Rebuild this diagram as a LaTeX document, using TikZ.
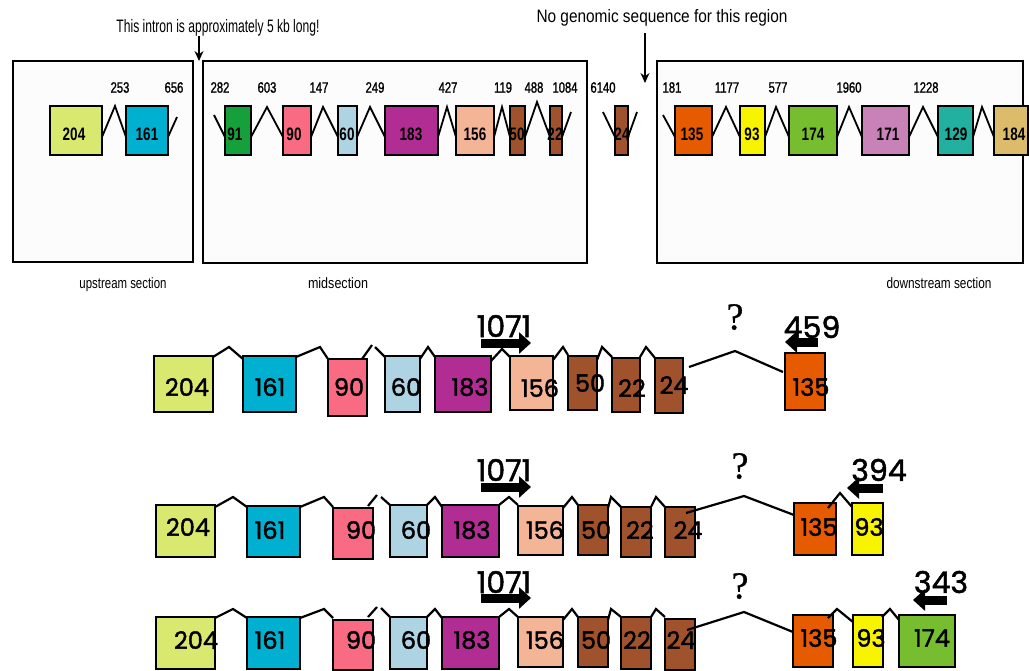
\documentclass[tikz,border=0pt]{standalone}
\usepackage{fontspec}
\usepackage{graphicx}
\setmainfont{Liberation Sans}
\newfontfamily\condfont[FakeStretch=0.75]{Liberation Sans}
\newfontfamily\condmed[FakeStretch=0.75,FakeBold=1.2]{Liberation Sans}
\newfontfamily\geofont[FakeBold=1.6]{Poppins}
\newfontfamily\qfont[FakeBold=0.8]{Liberation Serif}
\usetikzlibrary{arrows.meta}
\definecolor{c204}{HTML}{D9E86E}
\definecolor{c161}{HTML}{00B0D0}
\definecolor{c91}{HTML}{16A03C}
\definecolor{c90}{HTML}{F86B82}
\definecolor{c60}{HTML}{AED4E3}
\definecolor{c183}{HTML}{B22D93}
\definecolor{c156}{HTML}{F4B496}
\definecolor{cbrown}{HTML}{A0522D}
\definecolor{c135}{HTML}{E65A00}
\definecolor{c93}{HTML}{F8F400}
\definecolor{c174}{HTML}{76BE30}
\definecolor{c171}{HTML}{C882B8}
\definecolor{c129}{HTML}{22B0A0}
\definecolor{c184}{HTML}{DCBC6A}
\definecolor{panelfill}{HTML}{FCFCFC}
\newcommand\exon[9]{%
  \node[exon, fill=#6, minimum width={#4-#2}, minimum height={#5-#3}] (#1) at ({(#2+#4)/2},{(#3+#5)/2}) {};
  \node[lbl] (#1t) at (#8,#9) {#7};}
\newcommand\intron[6]{\draw[intron] (#1.east |- 0,#3) -- (#4,#5) -- (#2.west |- 0,#6);}
\begin{document}
\begin{tikzpicture}[x=1pt,y=-1pt,
  exon/.style={draw=black, line width=1.6pt, inner sep=0pt, outer sep=0pt},
  intron/.style={draw=black, line width=1.8pt},
  panel/.style={draw=black, line width=1.5pt, fill=panelfill},
  ilbl/.style={font=\condmed\fontsize{15}{15}\selectfont, inner sep=0pt},
  caption/.style={font=\condfont\fontsize{18}{18}\selectfont, inner sep=0pt, anchor=base},
  seclbl/.style={font=\condfont\fontsize{15}{15}\selectfont, inner sep=0pt, anchor=base},
  pointer/.style={draw=black, line width=1.2pt, -{Stealth[length=10pt,width=9pt]}},
  blockarrow/.style={draw=black, line width=9pt, -{Triangle[length=12pt,width=21pt]}},
  qmark/.style={font=\qfont\fontsize{38}{38}\selectfont, inner sep=0pt},
  big/.style={font=\geofont\fontsize{30}{30}\selectfont, inner sep=0pt}]
\useasboundingbox (0,0) rectangle (1029,670);

% ---------- top: panels ----------
\node[panel, minimum width=180, minimum height=201] (up) at (103,161.5) {};
\node[panel, minimum width=384, minimum height=202] (mid) at (395,162) {};
\node[panel, minimum width=366, minimum height=202] (down) at (840,162) {};
\node[seclbl] (uplbl) at (123,288) {\resizebox{87pt}{\height}{upstream section}};
\node[seclbl] (midlbl) at (338,288) {\resizebox{60pt}{\height}{midsection}};
\node[seclbl] (downlbl) at (939,288) {\resizebox{105pt}{\height}{downstream section}};

\node[caption] (cap1) at (218,32) {\resizebox{203pt}{\height}{This intron is approximately 5 kb long!}};
\node[caption] (cap2) at (662,22) {\resizebox{251pt}{\height}{No genomic sequence for this region}};
\coordinate (p1s) at (199,36); \coordinate (p1e) at (199,61);
\coordinate (p2s) at (645,33); \coordinate (p2e) at (645,83);
\draw[pointer] (p1s) -- (p1e);
\draw[pointer] (p2s) -- (p2e);

% ---------- top: exons ----------
\begin{scope}[lbl/.style={font=\condfont\bfseries\fontsize{18}{18}\selectfont, inner sep=0pt}]
\exon{u204}{50}{106}{102}{155}{c204}{204}{74}{134}
\exon{u161}{126}{106}{168}{155}{c161}{161}{147}{134}
\exon{m91}{225}{106}{251}{155}{c91}{91}{235}{134}
\exon{m90}{283}{106}{311}{155}{c90}{90}{294}{134}
\exon{m60}{338}{106}{357}{155}{c60}{60}{347}{134}
\exon{m183}{385}{106}{438}{155}{c183}{183}{411}{134}
\exon{m156}{456}{106}{494}{155}{c156}{156}{475}{134}
\exon{m50}{510}{106}{525}{155}{cbrown}{50}{517}{134}
\exon{m22}{550}{106}{562}{155}{cbrown}{22}{555}{134}
\exon{x24}{615}{106}{628}{155}{cbrown}{24}{622}{134}
\exon{d135}{675}{106}{712}{155}{c135}{135}{692}{134}
\exon{d93}{740}{106}{765}{155}{c93}{93}{752}{134}
\exon{d174}{789}{106}{837}{155}{c174}{174}{813}{134}
\exon{d171}{862}{106}{909}{155}{c171}{171}{888}{134}
\exon{d129}{938}{106}{973}{155}{c129}{129}{956}{134}
\exon{d184}{994}{106}{1028}{155}{c184}{184}{1014}{134}
\end{scope}

% ---------- top: introns ----------
\intron{u204}{u161}{137}{115}{106}{137}
\draw[intron] (u161.east |- 0,137) -- (177,117);
\draw[intron] (214,115) -- (m91.west |- 0,137);
\intron{m91}{m90}{137}{267}{107}{137}
\intron{m90}{m60}{137}{323}{107}{137}
\intron{m60}{m183}{137}{370}{107}{137}
\intron{m183}{m156}{137}{447}{107}{137}
\intron{m156}{m50}{137}{502}{107}{137}
\intron{m50}{m22}{137}{537}{102}{137}
\draw[intron] (m22.east |- 0,137) -- (571,112);
\draw[intron] (603,112) -- (x24.west |- 0,137);
\draw[intron] (x24.east |- 0,137) -- (637,112);
\draw[intron] (663,115) -- (d135.west |- 0,137);
\intron{d135}{d93}{137}{726}{107}{137}
\intron{d93}{d174}{137}{776}{107}{137}
\intron{d174}{d171}{137}{849}{107}{137}
\intron{d171}{d129}{137}{923}{107}{137}
\intron{d129}{d184}{137}{982}{107}{137}

% ---------- top: intron lengths ----------
\node[ilbl] (i253) at (120,87.5) {253};
\node[ilbl] (i656) at (174,87.5) {656};
\node[ilbl] (i282) at (220,87.5) {282};
\node[ilbl] (i603) at (267,87.5) {603};
\node[ilbl] (i147) at (319,87.5) {147};
\node[ilbl] (i249) at (375,87.5) {249};
\node[ilbl] (i427) at (448,87.5) {427};
\node[ilbl] (i119) at (503,87.5) {119};
\node[ilbl] (i488) at (534,87.5) {488};
\node[ilbl] (i1084) at (565,87.5) {1084};
\node[ilbl] (i6140) at (603,87.5) {6140};
\node[ilbl] (i181) at (672,87.5) {181};
\node[ilbl] (i1177) at (727,87.5) {1177};
\node[ilbl] (i577) at (778,87.5) {577};
\node[ilbl] (i1960) at (849,87.5) {1960};
\node[ilbl] (i1228) at (926,87.5) {1228};

% ---------- bottom rows ----------
\begin{scope}[exon/.append style={line width=2.6pt},
  intron/.append style={line width=2.2pt},
  lbl/.style={font=\geofont\fontsize{24}{24}\selectfont, inner sep=0pt}]
% row 1
\exon{a204}{154}{356}{213}{412}{c204}{204}{187}{387}
\exon{a161}{243}{356}{296}{412}{c161}{161}{270}{387}
\exon{a90}{328}{359}{367}{416}{c90}{90}{349}{387}
\exon{a60}{385}{356}{420}{412}{c60}{60}{406}{387}
\exon{a183}{435}{356}{491}{412}{c183}{183}{470}{387}
\exon{a156}{510}{356}{553}{410}{c156}{156}{540}{388}
\exon{a50}{568}{356}{597}{410}{cbrown}{50}{590}{383}
\exon{a22}{612}{358}{640}{412}{cbrown}{22}{632}{388}
\exon{a24}{655}{358}{683}{413}{cbrown}{24}{674}{385}
\exon{a135}{785}{353}{825}{410}{c135}{135}{811}{387}
\intron{a204}{a161}{357}{229}{347}{359}
\intron{a161}{a90}{357}{320}{347}{359}
\draw[intron] ([xshift=-5pt]a90.east |- 0,359) -- (372,345);
\draw[intron] (375,347) -- (a60.west |- 0,357);
\intron{a60}{a183}{359}{428}{347}{357}
\intron{a183}{a156}{361}{502}{349}{357}
\intron{a156}{a50}{360}{563}{347}{355}
\intron{a50}{a22}{360}{602}{347}{357}
\intron{a22}{a24}{357}{646}{347}{358}
\draw[intron] ([xshift=6pt]a24.east |- 0,367) -- (735,351) -- ([xshift=-2pt]a135.west |- 0,372);
\node[qmark] (q1) at (735,317) {?};
\coordinate (b1s) at (481,343); \coordinate (b1e) at (531,343);
\draw[blockarrow] (b1s) -- (b1e);
\node[big] (n1071a) at (504,326) {1071};
\coordinate (b2s) at (818,342); \coordinate (b2e) at (785,342);
\draw[blockarrow] (b2s) -- (b2e);
\node[big] (n459) at (812,327) {459};

% row 2
\exon{b204}{156}{505}{215}{557}{c204}{204}{188}{527}
\exon{b161}{247}{506}{300}{557}{c161}{161}{270}{530}
\exon{b90}{333}{508}{373}{559}{c90}{90}{361}{530}
\exon{b60}{390}{505}{427}{557}{c60}{60}{416}{530}
\exon{b183}{442}{505}{499}{557}{c183}{183}{472}{530}
\exon{b156}{518}{506}{563}{555}{c156}{156}{545}{530}
\exon{b50}{578}{505}{608}{555}{cbrown}{50}{596}{530}
\exon{b22}{621}{507}{651}{557}{cbrown}{22}{640}{530}
\exon{b24}{665}{507}{695}{557}{cbrown}{24}{688}{530}
\exon{b135}{794}{503}{836}{555}{c135}{135}{819}{527}
\exon{b93}{852}{503}{883}{555}{c93}{93}{869}{527}
\intron{b204}{b161}{507}{233}{497}{507}
\intron{b161}{b90}{507}{324}{497}{507}
\draw[intron] ([xshift=-5pt]b90.east |- 0,506) -- (377,495);
\draw[intron] (381,497) -- (b60.west |- 0,505);
\intron{b60}{b183}{505}{435}{497}{507}
\intron{b183}{b156}{505}{509}{497}{505}
\intron{b156}{b50}{508}{572}{497}{505}
\intron{b50}{b22}{508}{611}{497}{507}
\intron{b22}{b24}{507}{656}{497}{507}
\draw[intron] ([xshift=-9pt]b24.east |- 0,513) -- (744,496) -- (b135.west |- 0,515);
\draw[intron] ([xshift=-8pt]b135.east |- 0,508) -- (840,493) -- (b93.west |- 0,507);
\node[qmark] (q2) at (740,466) {?};
\coordinate (b3s) at (481,487); \coordinate (b3e) at (531,487);
\draw[blockarrow] (b3s) -- (b3e);
\node[big] (n1071b) at (504,470) {1071};
\coordinate (b4s) at (883,488); \coordinate (b4e) at (847,488);
\draw[blockarrow] (b4s) -- (b4e);
\node[big] (n394) at (879,470) {394};

% row 3
\exon{c204}{156}{617}{215}{669}{c204}{204}{196}{640}
\exon{c161}{247}{617}{300}{669}{c161}{161}{270}{640}
\exon{c90}{333}{620}{373}{670}{c90}{90}{361}{640}
\exon{c60}{390}{617}{427}{669}{c60}{60}{416}{640}
\exon{c183}{442}{617}{499}{669}{c183}{183}{472}{640}
\exon{c156}{518}{617}{563}{667}{c156}{156}{545}{640}
\exon{c50}{578}{617}{608}{667}{cbrown}{50}{596}{640}
\exon{c22}{621}{617}{651}{669}{cbrown}{22}{637}{640}
\exon{c24}{665}{619}{695}{670}{cbrown}{24}{681}{640}
\exon{c135}{793}{615}{833}{667}{c135}{135}{819}{638}
\exon{c93}{853}{615}{883}{667}{c93}{93}{871}{638}
\exon{c174}{899}{615}{955}{667}{c174}{174}{932}{638}
\intron{c204}{c161}{618}{233}{609}{618}
\intron{c161}{c90}{618}{324}{609}{618}
\draw[intron] ([xshift=-5pt]c90.east |- 0,617) -- (377,607);
\draw[intron] (381,608) -- (c60.west |- 0,617);
\intron{c60}{c183}{617}{435}{609}{618}
\intron{c183}{c156}{617}{509}{609}{617}
\intron{c156}{c50}{620}{572}{609}{617}
\intron{c50}{c22}{620}{611}{609}{617}
\intron{c22}{c24}{617}{656}{609}{617}
\draw[intron] ([xshift=-8pt]c24.east |- 0,630) -- (744,612) -- (c135.west |- 0,632);
\draw[intron] ([xshift=-5pt]c135.east |- 0,618) -- (837,609) -- (c93.west |- 0,622);
\draw[intron] ([xshift=-1pt]c93.east |- 0,617) -- (890,609) -- (c174.west |- 0,620);
\node[qmark] (q3) at (740,586) {?};
\coordinate (b5s) at (481,598); \coordinate (b5e) at (531,598);
\draw[blockarrow] (b5s) -- (b5e);
\node[big] (n1071c) at (504,582) {1071};
\coordinate (b6s) at (947,600); \coordinate (b6e) at (913,600);
\draw[blockarrow] (b6s) -- (b6e);
\node[big] (n343) at (941,582) {343};
\end{scope}
\end{tikzpicture}
\end{document}
